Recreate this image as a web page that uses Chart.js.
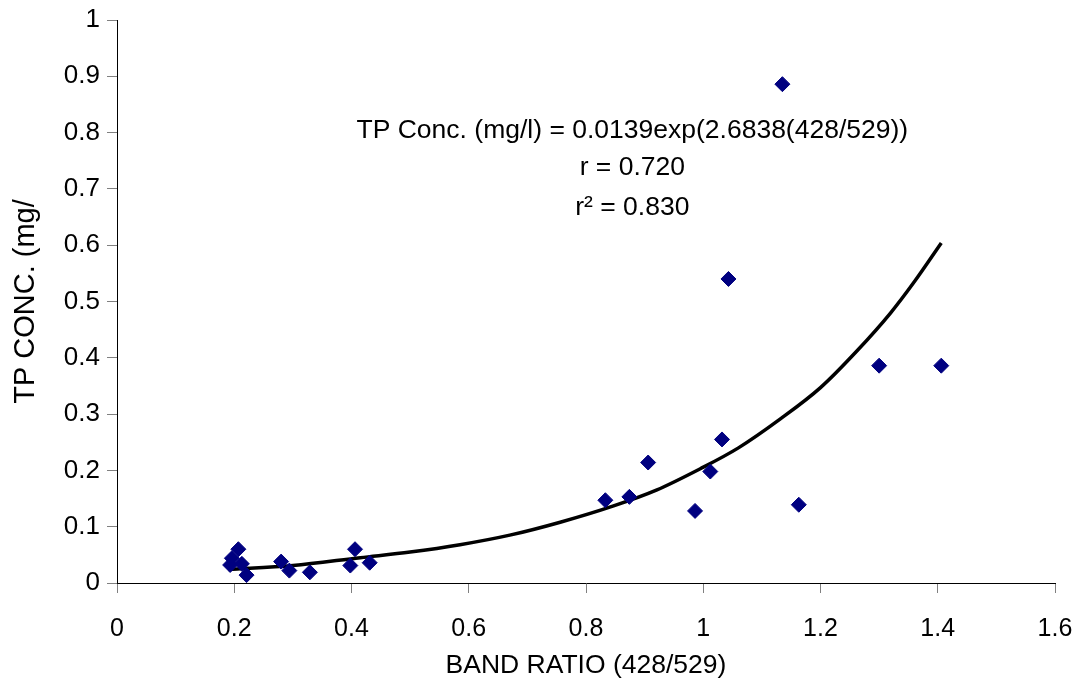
<!DOCTYPE html>
<html>
<head>
<meta charset="utf-8">
<script src="https://cdn.jsdelivr.net/npm/chart.js@4"></script>
<style>
  html, body { margin: 0; padding: 0; background: #ffffff; }
  #wrap { width: 1082px; height: 690px; }
</style>
</head>
<body>
<div id="wrap"><canvas id="c" width="1082" height="690"></canvas></div>
<script>
// Observed samples (band ratio 428/529 vs TP concentration mg/l)
const bandRatio = [0.193, 0.196, 0.207, 0.213, 0.221, 0.280, 0.294, 0.329, 0.398, 0.406, 0.431,
                   0.833, 0.874, 0.906, 0.986, 1.012, 1.032, 1.043, 1.135, 1.163, 1.300, 1.406];
const tpConc    = [0.032, 0.044, 0.060, 0.034, 0.014, 0.038, 0.022, 0.019, 0.031, 0.060, 0.036,
                   0.147, 0.153, 0.214, 0.128, 0.198, 0.255, 0.540, 0.886, 0.139, 0.386, 0.386];

// Trend curve
const trendX = [0.19, 0.30, 0.415, 0.50, 0.585, 0.67, 0.756, 0.847, 0.92, 0.995, 1.06, 1.131, 1.20, 1.262, 1.319, 1.36, 1.406];
const trendY = [0.024, 0.031, 0.045, 0.055, 0.068, 0.085, 0.108, 0.137, 0.165, 0.203, 0.240, 0.291, 0.347, 0.412, 0.479, 0.535, 0.604];

const xTicks = [0, 0.2, 0.4, 0.6, 0.8, 1, 1.2, 1.4, 1.6];
const yTicks = [0, 0.1, 0.2, 0.3, 0.4, 0.5, 0.6, 0.7, 0.8, 0.9, 1];

const annotationLines = [
  { text: 'TP Conc. (mg/l) = 0.0139exp(2.6838(428/529))', x: 0.879, y: 0.803 },
  { text: 'r = 0.720', x: 0.879, y: 0.737 },
  { text: 'r\u00B2 = 0.830', x: 0.879, y: 0.667 }
];

const FONT = '"Liberation Sans", Arial, sans-serif';

const textPlugin = {
  id: 'eqText',
  afterDatasetsDraw(chart) {
    const ctx = chart.ctx;
    const xs = chart.scales.x, ys = chart.scales.y;
    ctx.save();
    ctx.fillStyle = '#000000';
    ctx.font = '26.5px ' + FONT;
    ctx.textAlign = 'center';
    ctx.textBaseline = 'middle';
    annotationLines.forEach(l => {
      ctx.fillText(l.text, xs.getPixelForValue(l.x), ys.getPixelForValue(l.y));
    });
    ctx.restore();
  }
};

new Chart(document.getElementById('c'), {
  type: 'scatter',
  data: {
    datasets: [
      {
        label: 'Samples',
        data: bandRatio.map((v, i) => ({ x: v, y: tpConc[i] })),
        pointStyle: 'rectRot',
        pointRadius: 7.5,
        pointHoverRadius: 7.5,
        pointBackgroundColor: '#000080',
        pointBorderColor: '#000080',
        pointBorderWidth: 1,
        showLine: false,
        order: 1
      },
      {
        label: 'Trend',
        data: trendX.map((v, i) => ({ x: v, y: trendY[i] })),
        showLine: true,
        borderColor: '#000000',
        borderWidth: 3.5,
        pointRadius: 0,
        cubicInterpolationMode: 'monotone',
        fill: false,
        order: 2
      }
    ]
  },
  options: {
    responsive: false,
    animation: false,
    devicePixelRatio: 1,
    layout: { padding: { left: 0, top: 20, right: 27, bottom: 0 } },
    plugins: {
      legend: { display: false },
      tooltip: { enabled: false }
    },
    scales: {
      x: {
        type: 'linear',
        min: 0, max: 1.6,
        afterBuildTicks(scale) { scale.ticks = xTicks.map(v => ({ value: v })); },
        afterFit(scale) { scale.height = 107; scale.paddingLeft = 0; scale.paddingRight = 0; },
        grid: { drawOnChartArea: false, drawTicks: true, tickLength: 10, color: '#808080', tickColor: '#808080' },
        border: { display: true, color: '#000000', width: 1 },
        ticks: {
          color: '#000000',
          font: { family: FONT, size: 25 },
          padding: 21,
          maxRotation: 0,
          callback: v => String(v)
        },
        title: {
          display: true,
          text: 'BAND RATIO (428/529)',
          color: '#000000',
          font: { family: FONT, size: 26.5 },
          padding: { top: 0, bottom: 8 }
        }
      },
      y: {
        type: 'linear',
        min: 0, max: 1,
        afterBuildTicks(scale) { scale.ticks = yTicks.map(v => ({ value: v })); },
        afterFit(scale) { scale.width = 117; scale.paddingTop = 0; scale.paddingBottom = 0; },
        grid: { drawOnChartArea: false, drawTicks: true, tickLength: 10, color: '#808080', tickColor: '#808080' },
        border: { display: true, color: '#000000', width: 1 },
        ticks: {
          color: '#000000',
          font: { family: FONT, size: 26 },
          padding: 7,
          callback: v => String(v)
        },
        title: {
          display: true,
          text: 'TP CONC. (mg/',
          color: '#000000',
          font: { family: FONT, size: 29 },
          padding: { top: 9, bottom: 0 }
        }
      }
    }
  },
  plugins: [textPlugin]
});
</script>
</body>
</html>
